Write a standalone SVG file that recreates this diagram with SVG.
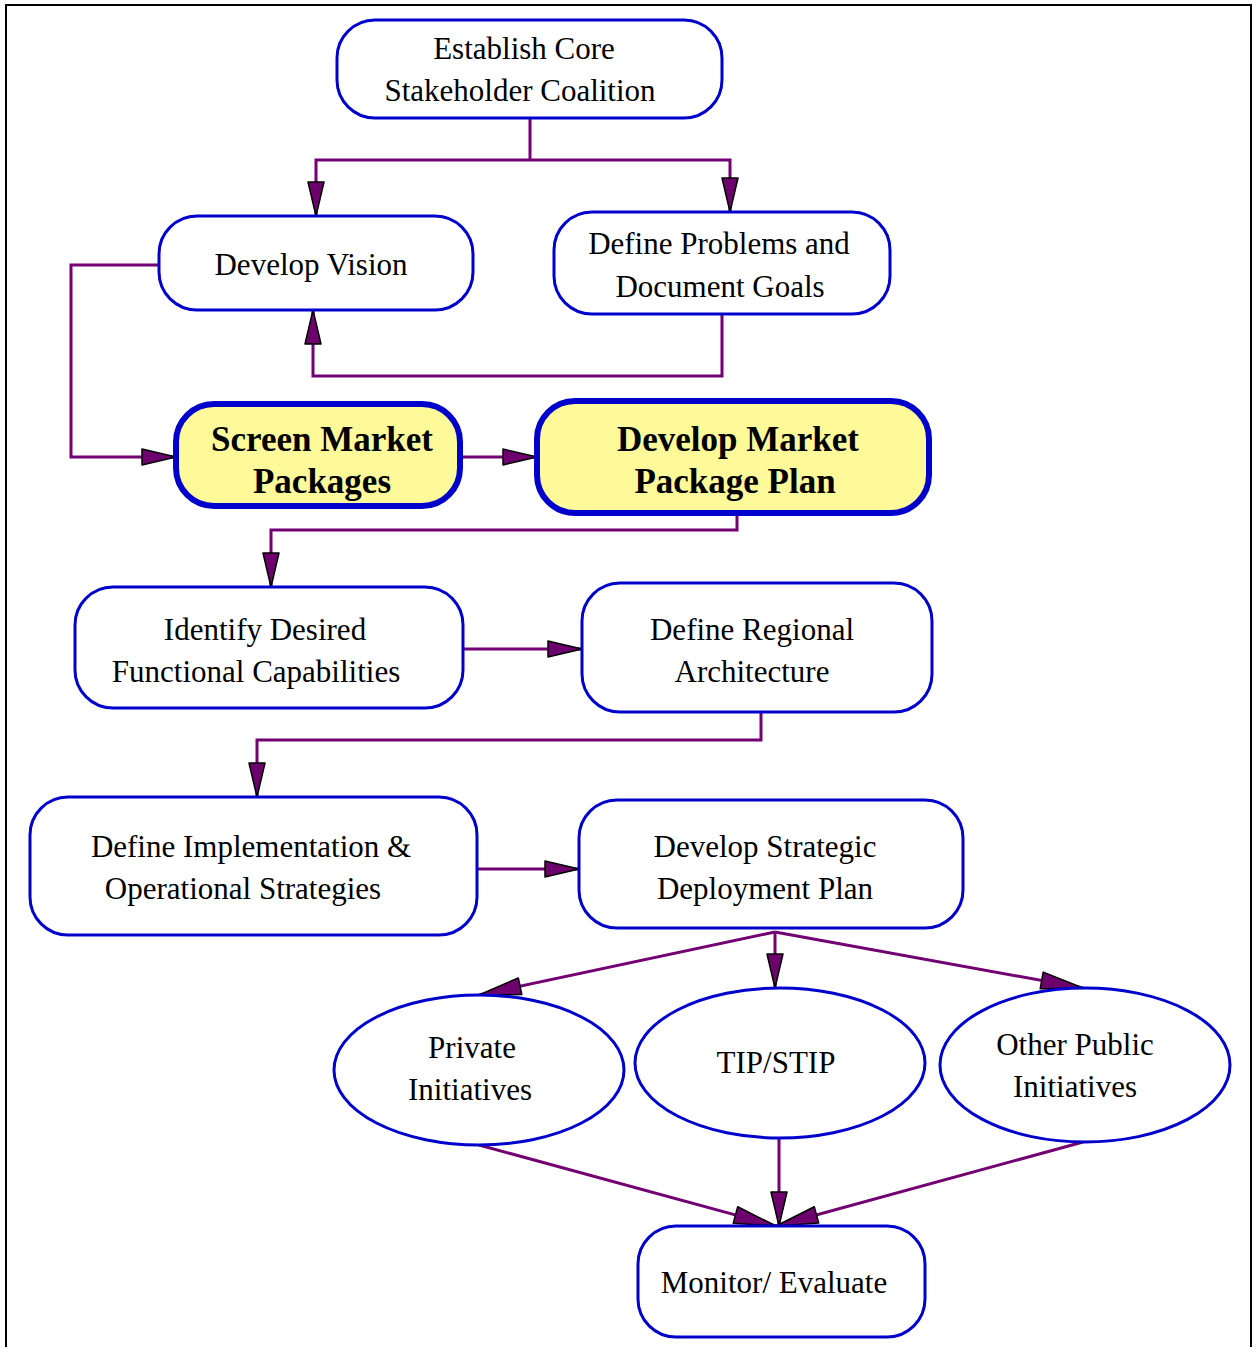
<svg xmlns="http://www.w3.org/2000/svg" width="1253" height="1347" viewBox="0 0 1253 1347">
  <defs>
    <marker id="arrow" markerUnits="userSpaceOnUse" markerWidth="40" markerHeight="22" viewBox="-36 -11 40 22" refX="0" refY="0" orient="auto">
      <path d="M0,0 L-34,-8 L-34,8 Z" fill="#6E006E" stroke="#000" stroke-width="1.5" stroke-linejoin="round"/>
    </marker>
    <marker id="arrow-long" markerUnits="userSpaceOnUse" markerWidth="48" markerHeight="24" viewBox="-45 -12 48 24" refX="0" refY="0" orient="auto">
      <path d="M0,0 L-42,-8.5 L-42,8.5 Z" fill="#6E006E" stroke="#000" stroke-width="1.5" stroke-linejoin="round"/>
    </marker>
    <style>
      .box { fill: #fff; stroke: #0000CC; stroke-width: 3; }
      .hot { fill: #FFFA99; stroke: #0000CC; stroke-width: 6; }
      .lbl { font-family: "Liberation Serif", "Times New Roman", serif; font-size: 31px; fill: #000; text-anchor: middle; }
      .big { font-family: "Liberation Serif", "Times New Roman", serif; font-size: 35px; font-weight: bold; fill: #000; text-anchor: middle; }
      .wire { fill: none; stroke: #720072; stroke-width: 3; stroke-linejoin: miter; }
      .frame { fill: none; stroke: #000; stroke-width: 2; }
    </style>
  </defs>

  <rect width="1253" height="1347" fill="#fff"/>
  <path class="frame" d="M6,1347 V5 H1251 V1347"/>

  <g id="connectors">
    <path class="wire" d="M530,118 V160"/>
    <path class="wire" d="M530,160 H316 V216" marker-end="url(#arrow)"/>
    <path class="wire" d="M530,160 H730 V212" marker-end="url(#arrow)"/>
    <path class="wire" d="M159,265 H71 V457 H176" marker-end="url(#arrow)"/>
    <path class="wire" d="M722,314 V376 H313 V310" marker-end="url(#arrow)"/>
    <path class="wire" d="M460,457 H537" marker-end="url(#arrow)"/>
    <path class="wire" d="M737,513 V530 H271 V587" marker-end="url(#arrow)"/>
    <path class="wire" d="M463,649 H582" marker-end="url(#arrow)"/>
    <path class="wire" d="M761,712 V740 H257 V797" marker-end="url(#arrow)"/>
    <path class="wire" d="M477,869 H579" marker-end="url(#arrow)"/>
    <path class="wire" d="M775,932 L479,995" marker-end="url(#arrow-long)"/>
    <path class="wire" d="M775,932 V988" marker-end="url(#arrow)"/>
    <path class="wire" d="M775,932 L1083,988" marker-end="url(#arrow-long)"/>
    <path class="wire" d="M479,1145 L776,1226" marker-end="url(#arrow-long)"/>
    <path class="wire" d="M1083,1142 L776,1226" marker-end="url(#arrow-long)"/>
    <path class="wire" d="M779,1138 V1226" marker-end="url(#arrow)"/>
  </g>

  <g id="establish-core">
    <rect class="box" x="337" y="20" width="385" height="98" rx="38"/>
    <text class="lbl" x="524" y="59">Establish Core</text>
    <text class="lbl" x="520" y="101">Stakeholder Coalition</text>
  </g>

  <g id="develop-vision">
    <rect class="box" x="159" y="216" width="314" height="94" rx="38"/>
    <text class="lbl" x="311" y="275">Develop Vision</text>
  </g>

  <g id="define-problems">
    <rect class="box" x="554" y="212" width="336" height="102" rx="38"/>
    <text class="lbl" x="719" y="254">Define Problems and</text>
    <text class="lbl" x="720" y="297">Document Goals</text>
  </g>

  <g id="screen-market-packages">
    <rect class="hot" x="176" y="404" width="284" height="102" rx="38"/>
    <text class="big" x="322" y="451">Screen Market</text>
    <text class="big" x="322" y="493">Packages</text>
  </g>

  <g id="develop-market-package-plan">
    <rect class="hot" x="537" y="401" width="392" height="112" rx="38"/>
    <text class="big" x="738" y="451">Develop Market</text>
    <text class="big" x="735" y="493">Package Plan</text>
  </g>

  <g id="identify-capabilities">
    <rect class="box" x="75" y="587" width="388" height="121" rx="38"/>
    <text class="lbl" x="265" y="640">Identify Desired</text>
    <text class="lbl" x="256" y="682">Functional Capabilities</text>
  </g>

  <g id="regional-architecture">
    <rect class="box" x="582" y="583" width="350" height="129" rx="38"/>
    <text class="lbl" x="752" y="640">Define Regional</text>
    <text class="lbl" x="752" y="682">Architecture</text>
  </g>

  <g id="implementation-strategies">
    <rect class="box" x="30" y="797" width="447" height="138" rx="38"/>
    <text class="lbl" x="251" y="857">Define Implementation &amp;</text>
    <text class="lbl" x="243" y="899">Operational Strategies</text>
  </g>

  <g id="strategic-deployment">
    <rect class="box" x="579" y="800" width="384" height="128" rx="38"/>
    <text class="lbl" x="765" y="857">Develop Strategic</text>
    <text class="lbl" x="765" y="899">Deployment Plan</text>
  </g>

  <g id="private-initiatives">
    <ellipse class="box" cx="479" cy="1070" rx="145" ry="75"/>
    <text class="lbl" x="472" y="1058">Private</text>
    <text class="lbl" x="470" y="1100">Initiatives</text>
  </g>

  <g id="tip-stip">
    <ellipse class="box" cx="780" cy="1063" rx="145" ry="75"/>
    <text class="lbl" x="776" y="1073">TIP/STIP</text>
  </g>

  <g id="other-public-initiatives">
    <ellipse class="box" cx="1085" cy="1065" rx="145" ry="77"/>
    <text class="lbl" x="1075" y="1055">Other Public</text>
    <text class="lbl" x="1075" y="1097">Initiatives</text>
  </g>

  <g id="monitor-evaluate">
    <rect class="box" x="638" y="1226" width="287" height="111" rx="38"/>
    <text class="lbl" x="774" y="1293">Monitor/ Evaluate</text>
  </g>
</svg>
